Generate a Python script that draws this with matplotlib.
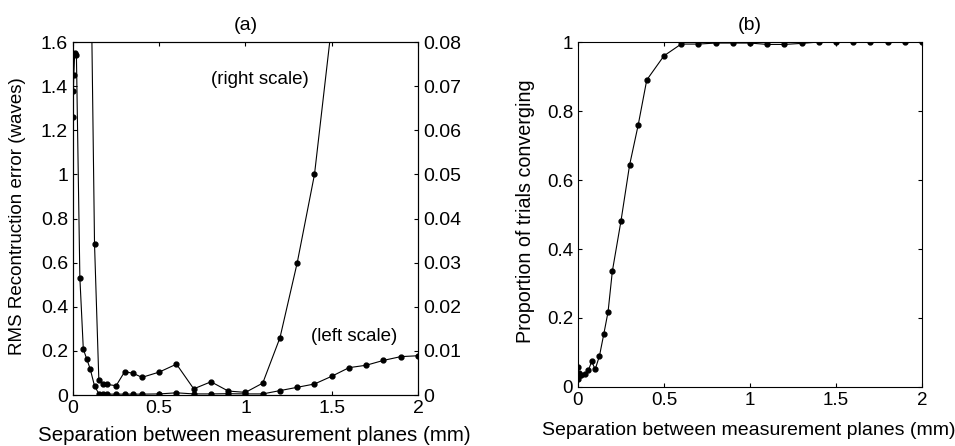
import numpy as np
import matplotlib
matplotlib.use("Agg")
import matplotlib.pyplot as plt
from matplotlib.ticker import FuncFormatter

plt.rcParams['font.family'] = ['Liberation Sans', 'DejaVu Sans']
plt.rcParams['font.size'] = 14

# separation between planes (mm), shared by all series
sep = [0, 0.0025, 0.005, 0.01, 0.02, 0.04, 0.06, 0.08, 0.1, 0.125, 0.15, 0.175,
       0.2, 0.25, 0.3, 0.35, 0.4, 0.5, 0.6, 0.7, 0.8, 0.9, 1.0, 1.1, 1.2, 1.3,
       1.4, 1.5, 1.6, 1.7, 1.8, 1.9, 2.0]

# (a) rms error, left scale (waves)
rms_left = [1.26, 1.38, 1.45, 1.552, 1.541, 0.532, 0.208, 0.163, 0.118, 0.041,
            0.006, 0.004, 0.004, 0.004, 0.004, 0.004, 0.004, 0.005, 0.010, 0.005,
            0.005, 0.006, 0.005, 0.005, 0.02, 0.035, 0.05, 0.085, 0.124, 0.135,
            0.157, 0.174, 0.178]

# (a) rms error, right scale (values above 0.08 run off the top)
rms_right = [2.0, 1.9, 1.8, 1.5, 1.1, 0.6, 0.35, 0.2, 0.11, 0.0342, 0.0034,
             0.0024, 0.0024, 0.0021, 0.0053, 0.0049, 0.004, 0.0052, 0.007, 0.0014,
             0.003, 0.0009, 0.0006, 0.0027, 0.013, 0.03, 0.05, 0.084, 0.13, 0.19,
             0.27, 0.37, 0.5]

# (b) proportion of trials converging
conv = [0.058, 0.024, 0.04, 0.035, 0.035, 0.038, 0.048, 0.074, 0.051, 0.09,
        0.153, 0.218, 0.336, 0.481, 0.643, 0.759, 0.89, 0.96, 0.994, 0.994,
        0.997, 0.997, 0.997, 0.993, 0.993, 0.996, 1, 1, 1, 1, 1, 1, 1]

fig = plt.figure(figsize=(9.55, 4.46), dpi=100)
ax = fig.add_axes([0.0764, 0.1143, 0.3613, 0.7915])
ax2 = ax.twinx()
axb = fig.add_axes([0.6052, 0.1323, 0.3602, 0.7735])

style = dict(color='black', lw=0.8, marker='o', ms=3.5)
fmt = FuncFormatter(lambda v, p: '%g' % round(v, 4))

ax.plot(sep, rms_left, **style)
ax2.plot(sep, rms_right, **style)
ax.set_xlim(0, 2)
ax.set_ylim(0, 1.6)
ax2.set_ylim(0, 0.08)
ax.set_yticks(np.arange(0, 1.61, 0.2))
ax2.set_yticks(np.arange(0, 0.081, 0.01))
ax.set_xticks([0, 0.5, 1, 1.5, 2])
ax.xaxis.set_major_formatter(fmt)
ax.yaxis.set_major_formatter(fmt)
ax2.yaxis.set_major_formatter(fmt)
ax.tick_params(direction='in', top=True, length=3, labelsize=14, pad=3.5)
ax2.tick_params(direction='in', length=3, labelsize=14, pad=3.5)
ax.set_xlabel("Separation between measurement planes (mm)", fontsize=14.8, va='center')
ax.xaxis.set_label_coords(0.527, -0.114)
ax.set_ylabel("RMS Recontruction error (waves)", fontsize=13.5, va='center')
ax.yaxis.set_label_coords(-0.16, 0.507)
ax.set_title("(a)", fontsize=14, pad=9)
ax.text(1.085, 1.43, "(right scale)", ha='center', va='center', fontsize=13.5)
ax.text(1.627, 0.264, "(left scale)", ha='center', va='center', fontsize=13.5)

axb.plot(sep, conv, **style)
axb.set_xlim(0, 2)
axb.set_ylim(0, 1)
axb.set_xticks([0, 0.5, 1, 1.5, 2])
axb.set_yticks(np.arange(0, 1.01, 0.2))
axb.xaxis.set_major_formatter(fmt)
axb.yaxis.set_major_formatter(fmt)
axb.tick_params(direction='in', top=True, right=True, length=3, labelsize=13.5, pad=3.5)
axb.set_xlabel("Separation between measurement planes (mm)", fontsize=14, va='center')
axb.xaxis.set_label_coords(0.496, -0.125)
axb.set_ylabel("Proportion of trials converging", fontsize=14.2, va='center')
axb.yaxis.set_label_coords(-0.153, 0.51)
axb.set_title("(b)", fontsize=14, pad=9)

for a in (ax, ax2, axb):
    for s in a.spines.values():
        s.set_linewidth(0.8)

fig.savefig("out.png", dpi=100)
